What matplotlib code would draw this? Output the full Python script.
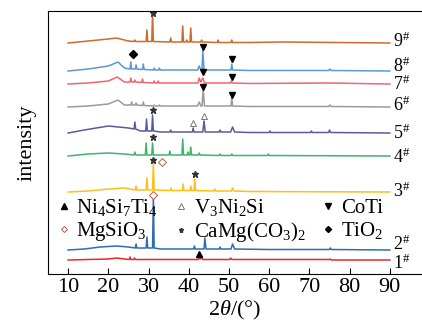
import matplotlib
matplotlib.use('Agg')
import matplotlib.pyplot as plt
from matplotlib.lines import Line2D
import numpy as np

plt.rcParams['font.family'] = ['Liberation Serif', 'DejaVu Serif']
plt.rcParams['mathtext.fontset'] = 'custom'
plt.rcParams['mathtext.rm'] = 'Liberation Serif'
plt.rcParams['mathtext.it'] = 'Liberation Serif:italic'

# 2theta / height pairs (height above its own baseline)
t1 = [(10,0),(20,1),(22,2),(24,1),(25.2,0.5),(25.4,3),(25.6,0.5),(26.3,0.5),(26.5,2),(26.7,0.5),
      (30,0.5),(42.4,0.5),(42.6,3),(42.9,1),(43.2,4),(43.5,0.5),(50.2,0.5),(50.4,2),(50.7,0.5),
      (75,0.5),(75.2,1),(75.4,0),(90,0)]
t2 = [(10,0),(14,1),(18,3),(22,4),(25,3),(26.7,2),(26.9,6),(27.1,2),(29.4,2),(29.6,13),(29.8,2),
      (31.0,2),(31.2,53),(31.4,2),(33,1),(36,1),(41.2,1),(41.4,4),(41.6,1),(43.8,1),(44.0,12),
      (44.3,1),(47.6,1),(47.8,3),(48,1),(50.5,1),(50.9,6),(51.4,1),(60,0.5),(75,0.5),(75.2,2),
      (75.4,0.5),(90,0)]
t3 = [(10,0),(15,1),(20,3),(24,4),(26.7,2),(26.9,6),(27.1,2),(29.4,2),(29.6,14),(29.8,2),(31.0,2),
      (31.2,30),(31.4,2),(35.4,1.5),(35.6,4),(35.8,1.5),(38.4,1.5),(38.6,8),(38.8,1.5),(40.3,1.5),
      (40.5,6),(40.7,1.5),(41.3,1.5),(41.5,13),(41.7,1.5),(46.3,1),(46.5,3),(46.7,1),(50.6,1),
      (50.9,4),(51.2,1),(55,0.5),(90,0)]
t4 = [(10,0),(15,2),(20,3),(24,2),(26.4,1),(26.6,4),(26.8,1),(29.2,1),(29.4,13),(29.6,1),(30.8,1),
      (31.0,13),(31.2,1),(35.1,1),(35.3,5),(35.5,1),(38.3,1),(38.5,17),(38.7,1),(39.6,1),(39.8,4),
      (40.0,1),(40.3,1),(40.5,9),(40.7,1),(42.4,1),(42.6,3),(42.8,1),(47.6,0.5),(47.8,2),(48,0.5),
      (50.5,0.5),(50.7,2),(50.9,0.5),(59.6,0.5),(59.8,2),(60,0.5),(90,0)]
t5 = [(10,0),(14,3),(20,7),(25,5),(26.4,4),(26.6,11),(26.8,4),(28,2),(29.3,2),(29.5,14),(29.7,2),
      (30.8,2),(31.0,18),(31.2,2),(33,1),(35.3,1),(35.5,3),(35.7,1),(40.9,1),(41.1,5),(41.3,1),
      (43.5,1),(43.8,12),(44.1,1),(47.6,1),(47.8,3),(48,1),(50.4,1),(50.9,6),(51.4,1),(55,0.5),
      (60,0.5),(60.2,2),(60.4,0.5),(70.3,0.5),(70.5,2),(70.7,0.5),(74.8,0.5),(75,3),(75.3,0.5),(90,0)]
t6 = [(10,0),(15,1),(20,3),(22.4,7),(24,2),(25.6,2),(25.8,5),(26,2),(26.7,2),(26.9,4),(27.1,2),
      (28.5,1.5),(28.7,5),(28.9,1.5),(31.2,1),(31.4,2),(31.6,1),(32.5,1),(32.7,2),(32.9,1),
      (42.2,1),(42.6,5),(43.0,1),(43.3,1),(43.6,18),(43.9,1),(50.5,1),(50.7,10),(50.9,1),
      (55,0.5),(74.8,0.5),(75.1,2),(75.4,0.5),(90,0)]
t7 = [(10,0),(15,1),(20,3),(22.2,7),(24,2),(25.4,2),(25.6,6),(25.8,2),(26.4,2),(26.6,4),(26.8,2),
      (28.3,1.5),(28.5,5),(28.7,1.5),(31.2,1),(31.4,3),(31.6,1),(32.2,1),(32.4,3),(32.6,1),
      (42.3,1),(42.6,6),(43.0,2),(43.5,6),(43.9,1),(50.4,1),(50.6,3),(50.8,1),(55,0.5),(75,1),(90,0)]
t8 = [(10,0),(15,2),(20,5),(22.4,9),(24,3),(25.4,2),(25.6,9),(25.8,2),(26.7,2),(26.9,6),(27.1,2),
      (28.5,1.5),(28.7,7),(28.9,1.5),(31.2,1),(31.4,3),(31.6,1),(32.5,1),(32.7,3),(32.9,1),
      (42.2,1),(42.6,5),(43.0,1),(43.3,1),(43.5,21),(43.8,1),(50.5,1),(50.7,7),(50.9,1),
      (55,0.5),(74.8,0.5),(75.1,2),(75.4,0.5),(90,0)]
t9 = [(10,0),(15,2),(20,4),(22,5),(25,2),(26.4,1.5),(26.6,3),(26.8,1.5),(29.4,1.5),(29.6,13),
      (29.8,1.5),(30.8,1.5),(31.0,30),(31.2,1.5),(35.3,1),(35.5,5),(35.7,1),(38.3,1),(38.5,17),
      (38.7,1),(39.3,1),(39.5,3),(39.7,1),(40.3,1),(40.5,15),(40.7,1),(43.0,1),(43.2,3),(43.4,1),
      (47.1,0.5),(47.3,3),(47.5,0.5),(50.5,0.5),(50.7,3),(50.9,0.5),(55,0.5),(63.5,1),(90,0)]

traces = [t1, t2, t3, t4, t5, t6, t7, t8, t9]
names = ['1', '2', '3', '4', '5', '6', '7', '8', '9']
offsets = [14, 24, 82, 118, 141, 167, 190, 203, 231]
label_y = [11, 30, 83, 117, 141, 169, 190, 208, 233]
colors = ['#E8282A', '#2F6CB0', '#FFBE1A', '#3DB56A', '#5A5AA0', '#9B9B9B', '#F2646A', '#5C98D2', '#CF6A2A']

# phase markers: trace index, 2theta, phase, height above baseline
ann = [(8, 31.0, 'cam', 30), (7, 26.1, 'tio', 17), (7, 43.5, 'coti', 24), (7, 50.7, 'coti', 12),
       (6, 43.5, 'coti', 12), (6, 50.7, 'coti', 7), (5, 43.6, 'coti', 20), (5, 50.7, 'coti', 12),
       (4, 31.0, 'cam', 23), (4, 41.1, 'vni', 10), (4, 43.8, 'vni', 17), (3, 31.0, 'cam', 19),
       (2, 31.0, 'cam', 32), (2, 33.3, 'mgs', 30), (2, 41.5, 'cam', 18), (1, 31.2, 'mgs', 55),
       (0, 42.6, 'nst', 6)]

order = ['nst', 'mgs', 'vni', 'cam', 'coti', 'tio']
phase_labels = {'nst': r'Ni$_4$Si$_7$Ti$_4$', 'vni': r'V$_3$Ni$_2$Si', 'coti': 'CoTi',
                'mgs': r'MgSiO$_3$', 'cam': r'CaMg(CO$_3$)$_2$', 'tio': r'TiO$_2$'}
styles = {'nst': dict(marker='^', mfc='k', mec='k', ms=5),
          'vni': dict(marker='^', mfc='white', mec='#777777', ms=5, mew=0.7),
          'coti': dict(marker='v', mfc='k', mec='k', ms=5),
          'mgs': dict(marker='D', mfc='white', mec='#B0604A', ms=3.8, mew=0.7),
          'cam': dict(marker='*', mfc='#333333', mec='#333333', ms=4.5),
          'tio': dict(marker='D', mfc='k', mec='k', ms=3.8)}

fig = plt.figure(figsize=(4.22, 3.24), dpi=100)
ax = fig.add_axes([48/422, 50/324, 374/422, 263/324])

for tr, off, ly, c, n in zip(traces, offsets, label_y, colors, names):
    x = np.array([p[0] for p in tr])
    y = np.array([p[1] for p in tr]) + off
    ax.plot(x, y, color=c, lw=1.1)
    ax.text(90.7, ly, n + r'$^{\#}$', fontsize=13, va='center', ha='left')

for i, x, ph, h in ann:
    ax.plot([x], [offsets[i] + h], ls='none', **styles[ph])

handles = []
for ph in order:
    st = dict(styles[ph])
    st['ms'] = st['ms'] * 0.8
    handles.append(Line2D([], [], ls='none', **st))
ax.legend(handles, [phase_labels[p] for p in order], ncol=3, frameon=False,
          loc='upper left', bbox_to_anchor=(-0.005, 0.34), fontsize=15,
          handlelength=0.5, handletextpad=0.35, columnspacing=0.85,
          labelspacing=0.1, borderpad=0.1)

ax.set_xlim(5, 98)
ax.set_ylim(0, 263)
ax.set_xticks([10, 20, 30, 40, 50, 60, 70, 80, 90])
ax.tick_params(axis='x', direction='in', length=4, labelsize=16, pad=3)
ax.set_yticks([])
ax.spines['right'].set_visible(False)
ax.set_xlabel(r'2$\theta$/(°)', fontsize=16, labelpad=1)
ax.set_ylabel('intensity', fontsize=16, labelpad=8)

fig.savefig('out.png', dpi=100)
